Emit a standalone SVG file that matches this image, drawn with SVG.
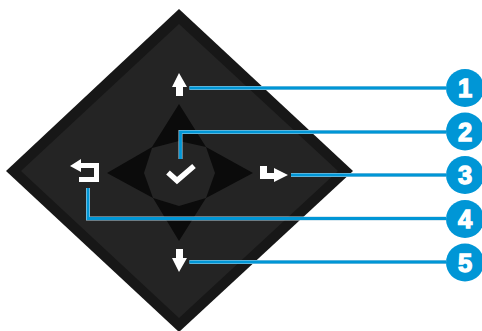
<svg xmlns="http://www.w3.org/2000/svg" width="482" height="331" viewBox="0 0 482 331">
<style>
.halo{fill:none;stroke:#b4d3e3;stroke-width:4;stroke-linecap:butt;stroke-linejoin:miter}
.lead{fill:none;stroke:#0096d6;stroke-width:2.8;stroke-linecap:butt;stroke-linejoin:miter}
.badge{fill:#0096d6}
.num{fill:#fff;stroke:#fff;stroke-width:1.3;font:700 25.500px "Liberation Sans",Arial,sans-serif;text-anchor:middle}
.icon{fill:#fff}
</style>
<rect width="482" height="331" fill="#fff"/>
<g id="pad">
<polygon points="179,9 353,171 179,332 6,171" fill="#171717"/>
<polygon points="179,24 338,171 179,318 21,171" fill="#242424"/>
<polygon points="179,104 206,147 253,173 206,198 179,241 153,198 107,173 152,147" fill="#0b0b0b"/>
<polygon points="179,141 206,147 215,173 206,198 179,206 153,198 144,173 152,148" fill="#242424"/>
</g>
<g id="icon-up"><polygon class="icon" points="179,73 187,87 183,87 183,96 176,96 176,87 172,87"/></g>
<g id="icon-ok"><polyline points="168,172.500 177,180.500 194,166" fill="none" stroke="#fff" stroke-width="5.500"/></g>
<g id="icon-next"><polygon class="icon" points="260,166 267,166 267,173 274,173 274,168 288,175 274,182 274,179 260,179"/></g>
<g id="icon-back"><polygon class="icon" points="70,166 81,159 81,163 99,163 99,182 79,182 79,177 94,177 94,168 81,168 81,172"/></g>
<g id="icon-down"><polygon class="icon" points="179,272 172,258 176,258 176,249 183,249 183,258 187,258"/></g>
<g id="connectors">
<path class="halo" d="M189.500 88H446M180.500 159V132H446M291 175H446M88 188V218.500H446M189.500 262H446"/>
<path class="lead" d="M189.500 88H446M180.500 159V132H446M291 175H446M88 188V218.500H446M189.500 262H446"/>
</g>
<g id="badge-1"><circle class="badge" cx="465" cy="88" r="19"/><text class="num" x="465" y="97">1</text></g>
<g id="badge-2"><circle class="badge" cx="465" cy="131.500" r="19"/><text class="num" x="465" y="140.500">2</text></g>
<g id="badge-3"><circle class="badge" cx="465" cy="175" r="19"/><text class="num" x="465" y="184">3</text></g>
<g id="badge-4"><circle class="badge" cx="465" cy="219" r="19"/><text class="num" x="465" y="228">4</text></g>
<g id="badge-5"><circle class="badge" cx="465" cy="262.500" r="19"/><text class="num" x="465" y="271.500">5</text></g>
</svg>
